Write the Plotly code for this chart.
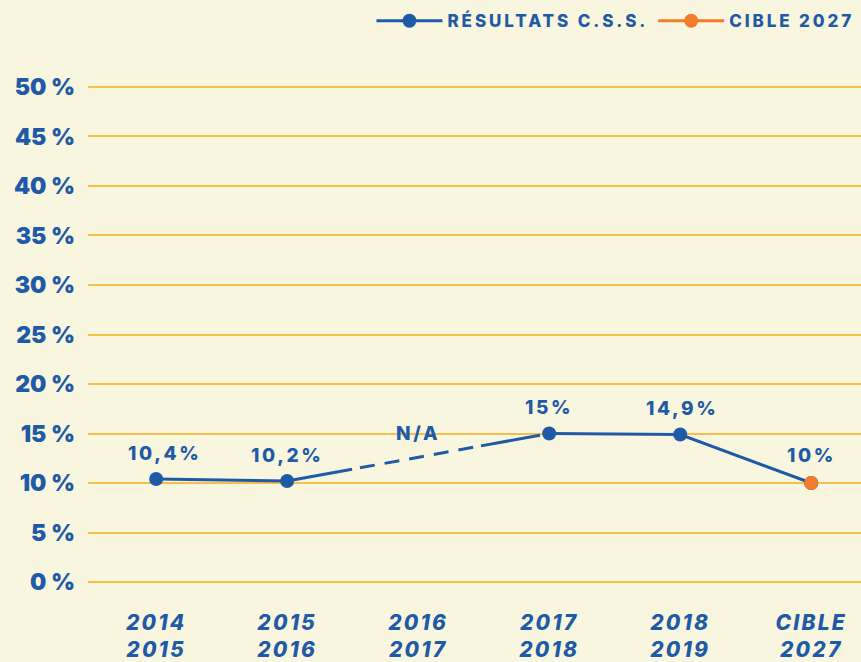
import plotly.graph_objects as go

categories = ["2014<br>2015", "2015<br>2016", "2016<br>2017", "2017<br>2018", "2018<br>2019", "CIBLE<br>2027"]
results = [10.4, 10.2, None, 15.0, 14.9]
target = 10.0
labels = ["10,4%", "10,2%", "N/A", "15%", "14,9%", "10%"]
label_y = [10.4, 10.2, 15.0, 15.0, 14.9, 10.0]
label_shift = [26, 26, 0, 26, 26, 28]
label_xshift = [8, 0, 0, 0, 2, 0]
y_ticks = [0, 5, 10, 15, 20, 25, 30, 35, 40, 45, 50]
y_ticktext = [f"{v} %" for v in y_ticks]

BLUE = "#1F5AA6"
ORANGE = "#F47A2C"
BG = "#F9F6E0"
GRID = "#F8BE4B"
FONT = "Inter"


def spaced(t, px):
    return f'<span style="letter-spacing:{px}px">{t}</span>'


def spaced_lines(t, px):
    return "<br>".join(spaced(p, px) for p in t.split("<br>"))


values_all = results + [target]

fig = go.Figure()

# dashed bridge over the missing year
fig.add_trace(go.Scatter(
    x=[categories[1], categories[3]], y=[results[1], results[3]],
    mode="lines",
    line=dict(color=BLUE, width=3,
              dash="66px,8px,15px,10px,15px,10px,15px,10px,15px,10px,15px,8px,60px"),
    showlegend=False, hoverinfo="skip"))

fig.add_trace(go.Scatter(
    x=categories, y=values_all, mode="lines+markers", name=spaced("RÉSULTATS C.S.S.", 2.9),
    line=dict(color=BLUE, width=3), connectgaps=False,
    marker=dict(size=14, color=BLUE)))

fig.add_trace(go.Scatter(
    x=[categories[5]], y=[target], mode="lines+markers", name=spaced("CIBLE 2027", 2.9),
    line=dict(color=ORANGE, width=3), marker=dict(size=14, color=ORANGE)))

for c, t, yv, s, xs in zip(categories, labels, label_y, label_shift, label_xshift):
    fig.add_annotation(x=c, y=yv, text=spaced(t, 2.6), showarrow=False, yshift=s, xshift=xs,
                       font=dict(family=FONT, size=19, color=BLUE, weight=800))

fig.update_layout(
    width=861, height=662,
    paper_bgcolor=BG, plot_bgcolor=BG,
    margin=dict(l=88, r=0, t=85, b=78),
    font=dict(family=FONT, color=BLUE),
    legend=dict(orientation="h", x=0.998, xanchor="right", y=1.128, yanchor="middle",
                font=dict(family=FONT, size=17, color=BLUE, weight=800),
                itemwidth=66, bgcolor="rgba(0,0,0,0)"),
    xaxis=dict(type="category", categoryorder="array", categoryarray=categories,
               tickvals=categories, ticktext=[spaced_lines(c, 2.2) for c in categories],
               range=[-0.52, 5.38], showgrid=False, zeroline=False,
               showline=False, ticks="", automargin=False,
               tickfont=dict(family=FONT, size=21, color=BLUE, weight=800, style="italic"),
               ticklabelstandoff=24),
    yaxis=dict(range=[-0.2, 50.2], tickvals=y_ticks, ticktext=y_ticktext, showgrid=True,
               gridcolor=GRID, gridwidth=1.5, zeroline=False, showline=False, ticks="",
               automargin=False,
               tickfont=dict(family=FONT, size=23, color=BLUE, weight=900),
               ticklabelstandoff=12),
)

fig.write_html(
    "out.html",
    config={"displayModeBar": False},
    post_script="document.body.style.margin='0';document.body.style.background='" + BG + "';",
)
